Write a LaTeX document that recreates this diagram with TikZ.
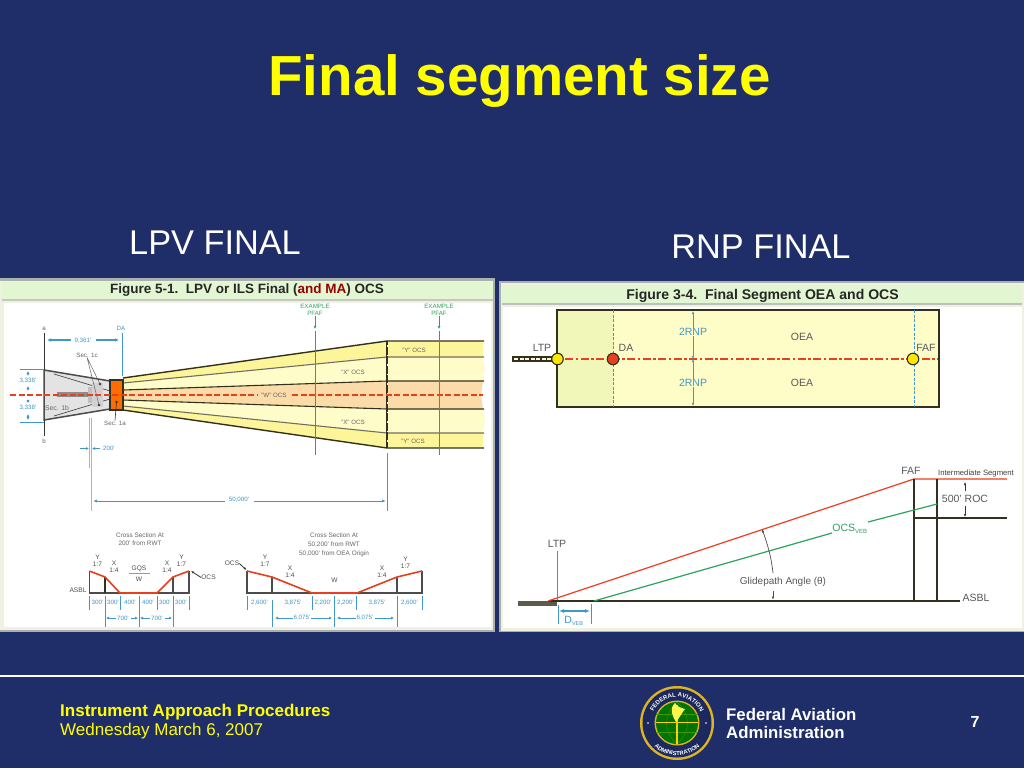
\documentclass[tikz,border=0pt]{standalone}
\usepackage{fontspec}
\setmainfont{Liberation Sans}
\usetikzlibrary{arrows.meta,decorations.text}
\definecolor{navy}{HTML}{1F2D69}
\definecolor{ttl}{HTML}{FFFF00}
\definecolor{frameg}{HTML}{A9B0AE}
\definecolor{cream}{HTML}{F1F1E2}
\definecolor{bar}{HTML}{E2F6D2}
\definecolor{dk}{HTML}{33301F}
\definecolor{red1}{HTML}{E8401F}
\definecolor{dimb}{HTML}{3F98C6}
\definecolor{grn}{HTML}{2FA35A}
\definecolor{lab}{HTML}{666666}
\definecolor{yy}{HTML}{FDF59A}
\definecolor{xx}{HTML}{FEFCC8}
\definecolor{ww}{HTML}{FBDCA8}
\definecolor{ltyel}{HTML}{FEFDC8}
\definecolor{dayel}{HTML}{F1F7B8}
\tikzset{
 px/.style={x=1pt,y=-1pt},
 big/.style={font=\fontsize{34.3}{34}\selectfont,text=white,inner sep=0pt},
 foot/.style={font=\fontsize{17}{18}\selectfont,inner sep=0pt,anchor=west},
 footb/.style={font=\fontsize{17}{18}\bfseries\selectfont,inner sep=0pt,anchor=west},
 figt/.style={font=\fontsize{13.5}{14}\bfseries\selectfont,text=black!85,inner sep=0pt},
 tiny/.style={font=\fontsize{6.2}{7}\selectfont,text=lab,inner sep=0pt},
 tinyb/.style={font=\fontsize{6.2}{7}\selectfont,text=dimb,inner sep=0pt},
 tinyg/.style={font=\fontsize{6.2}{7.6}\selectfont,text=grn,inner sep=0pt,align=center},
 ratio/.style={font=\fontsize{6.6}{7}\selectfont,text=black!70,inner sep=0pt,align=center},
 mid/.style={font=\fontsize{10.5}{11}\selectfont,text=black!65,inner sep=0pt},
 midb/.style={font=\fontsize{10.5}{11}\selectfont,text=dimb,inner sep=0pt},
 dimline/.style={draw=dimb,line width=.9pt},
 dimarrow/.style={draw=dimb,line width=1.1pt,-{Latex[length=4pt,width=3.5pt]}},
 profile/.style={draw=red1,line width=1.6pt,line join=round},
 post/.style={draw=black!70,line width=1.1pt},
 rdash/.style={draw=red1,line width=1.6pt,dash pattern=on 6pt off 2.5pt},
 rdd/.style={draw=red1,line width=1.5pt,dash pattern=on 8pt off 2.5pt on 2.5pt off 2.5pt},
 fan/.style={draw=dk,line width=1.1pt},
 pfaf/.style={draw=grn,line width=.85pt},
 bluedash/.style={draw=dimb,line width=.9pt,dash pattern=on 3pt off 1.5pt},
 hvy/.style={draw=dk,line width=1.8pt},
 blk/.style={draw=black!80,line width=.8pt,-{Latex[length=3pt,width=2.5pt]}},
}
\begin{document}
\begin{tikzpicture}[px]
\useasboundingbox (0,0) rectangle (1024,768);
\fill[navy] (0,0) rectangle (1024,768);
% titles
\node[font=\fontsize{56.5}{56}\bfseries\selectfont,text=ttl,inner sep=0pt] (title) at (519.5,81) {Final segment size};
\node[big] (lpv) at (215,243) {LPV FINAL};
\node[big] (rnp) at (761,247) {RNP FINAL};
% left panel
\fill[frameg] (0,278) rectangle (495,632);
\fill[cream] (0,281) rectangle (493,630);
\fill[white] (4,303) rectangle (491,627);
\fill[bar] (2,282) rectangle (493,299);
\fill[frameg!70] (2,299) rectangle (493,301);
\node[figt] (figL) at (247,290.5) {Figure 5-1.\ \ LPV or ILS Final (\textcolor{red!60!black}{and MA}) OCS};
% fan fills
\fill[yy] (123,378) -- (387,341) -- (483,341) -- (483,357) -- (387,357) -- (123,383) -- cycle;
\fill[xx] (123,383) -- (387,357) -- (483,357) -- (485,369) -- (483,381) -- (387,381) -- (123,390) -- cycle;
\fill[ww] (123,390) -- (387,381) -- (483,381) -- (481,395) -- (483,409) -- (387,409) -- (123,400) -- cycle;
\fill[xx] (123,400) -- (387,409) -- (483,409) -- (485,421) -- (483,433) -- (387,433) -- (123,406) -- cycle;
\fill[yy] (123,406) -- (387,433) -- (483,433) -- (483,448) -- (387,448) -- (123,410) -- cycle;
\draw[fan,line width=1.4pt] (123,378) -- (387,341) -- (484,341);
\draw[fan,line width=1.4pt] (123,410) -- (387,448) -- (484,448);
\draw[fan,draw=dk!70] (123,383) -- (387,357) -- (484,357);
\draw[fan] (123,390) -- (387,381) -- (484,381);
\draw[fan] (123,400) -- (387,409) -- (484,409);
\draw[fan,draw=dk!70] (123,406) -- (387,433) -- (484,433);
\draw[draw=dk,line width=1.6pt] (387,341) -- (387,448);
\draw[white,line width=.6pt,dash pattern=on 1.5pt off 8pt] (387,345) -- (387,445);
% sec 1
\fill[black!11,draw=black!70,line width=1.5pt] (44,370) -- (110,381) -- (110,409) -- (44,420) -- cycle;
\draw[black!70,line width=.7pt] (54,374) -- (110,391) (54,416) -- (110,399);
\fill[black!45] (57,392) rectangle (92,397);
\fill[black!25] (88,387) rectangle (96,403);
\fill[black!18] (92,383) rectangle (103,407);
\fill[orange!85!red,draw=dk,line width=1.2pt] (110,380) rectangle (123,410);
\coordinate (d1) at (100,384); \coordinate (d2) at (99,405); \coordinate (d3) at (116.5,402);
\fill[black!80] (d1) circle (1.4) (d2) circle (1.4) (d3) circle (1.4);
\node[tiny] (sc) at (87,355) {Sec. 1c};
\draw[black!60,line width=.5pt] (sc.south) -- (d1) (sc.south) -- (d2);
\node[tiny,font=\fontsize{6.8}{7}\selectfont] (sb) at (57,408.5) {Sec. 1b};
\node[tiny] (sa) at (115,423) {Sec. 1a};
\draw[black!80,line width=.6pt] (sa.north) -- (d3);
\draw[rdash] (10,395) -- (258,395);
\node[tiny] (wo) at (274,395) {"W" OCS};
\draw[rdash] (292,395) -- (483,395);
\node[tiny] (x1) at (353,372) {"X" OCS};
\node[tiny] (x2) at (353,422) {"X" OCS};
\node[tiny] (y1) at (414,350) {"Y" OCS};
\node[tiny] (y2) at (413,441) {"Y" OCS};
% example pfaf
\node[tinyg] (p1) at (315,310) {EXAMPLE\\PFAF};
\node[tinyg] (p2) at (439,310) {EXAMPLE\\PFAF};
\draw[pfaf] (315,331) -- (315,455);
\draw[pfaf] (439,331) -- (439,455);
\coordinate (p1e) at (315,329); \coordinate (p2e) at (439,329);
\draw[pfaf,-{Latex[length=3pt,width=3pt]}] (p1.south) -- (p1e);
\draw[pfaf,-{Latex[length=3pt,width=3pt]}] (p2.south) -- (p2e);
% left dims
\node[tiny] (na) at (44,329) {a};
\node[tiny] (nb) at (44,441) {b};
\draw[black!80,line width=.8pt] (44,333) -- (44,370);
\draw[black!80,line width=.8pt] (44,420) -- (44,436);
\node[tinyb] (da) at (121,328) {DA};
\draw[dimline] (122,333) -- (122,376);
\node[tinyb] (d9) at (83,340.5) {9,361'};
\coordinate (d9l) at (47,340); \coordinate (d9r) at (119,340);
\draw[dimarrow] (71,340) -- (d9l);
\draw[dimarrow] (96,340) -- (d9r);
\draw[dimline] (20,369.5) -- (44,369.5) (20,422) -- (44,422);
\node[tinyb] (h1) at (28,381) {3,338'};
\node[tinyb] (h2) at (28,408) {3,338'};
\draw[dimline,{Latex[length=3pt,width=3pt]}-{Latex[length=3pt,width=3pt]}] (28,371) -- (28,376);
\draw[dimline,{Latex[length=3pt,width=3pt]}-{Latex[length=3pt,width=3pt]}] (28,386) -- (28,391);
\draw[dimline,{Latex[length=3pt,width=3pt]}-{Latex[length=3pt,width=3pt]}] (28,399) -- (28,403);
\draw[dimline,{Latex[length=3pt,width=3pt]}-{Latex[length=3pt,width=3pt]}] (28,414) -- (28,420);
\draw[dimb!60,line width=.7pt] (89.5,418) -- (89.5,468) (91.5,418) -- (91.5,511);
\draw[dimline,-{Latex[length=3pt,width=3pt]}] (80,448.5) -- (89,448.5);
\draw[dimline,-{Latex[length=3pt,width=3pt]}] (100,448.5) -- (92,448.5);
\node[tinyb] (d200) at (109,448.5) {200'};
\node[tinyb] (d50) at (239,500) {50,000'};
\coordinate (d50l) at (93,501); \coordinate (d50r) at (386,501);
\draw[dimline,-{Latex[length=4pt,width=3pt]}] (225,501) -- (d50l);
\draw[dimline,-{Latex[length=4pt,width=3pt]}] (254,501) -- (d50r);
\draw[dimline] (387.5,453) -- (387.5,511);
% cross section 1
\node[tiny,align=center,font=\fontsize{6.4}{8}\selectfont] (cs1) at (140,539) {Cross Section At\\200' from RWT};
\draw[post] (89.5,571) -- (89.5,593) -- (189,593) -- (189,571);
\draw[post,draw=dk] (105,577) -- (105,593);
\draw[post] (173,577) -- (173,593);
\draw[profile] (89.5,571) -- (105,577) -- (120,593) -- (157,593) -- (173,577) -- (189,571);
\node[ratio] (ya) at (97.5,561) {Y\\1:7};
\node[ratio] (xa) at (114,566.5) {X\\1:4};
\node[ratio] (xb) at (167,566.5) {X\\1:4};
\node[ratio] (yb) at (181.5,561) {Y\\1:7};
\node[ratio] (gqs) at (139,568.5) {GQS};
\draw[black!40,line width=.5pt] (129,573.5) -- (150,573.5);
\node[ratio] (wa) at (139,579.5) {W};
\node[ratio] (asa) at (78,590.5) {ASBL};
\node[ratio] (oa) at (208.5,577.5) {OCS};
\coordinate (oat) at (191,571);
\draw[blk] (oa.west) -- (oat);
\foreach \x in {89.5,105,120.5,139,157.5,173,189} \draw[dimline] (\x,596) -- (\x,610);
\foreach \x in {105,139,173} \draw[dimline] (\x,602) -- (\x,627);
\foreach \x/\t/\n in {97.5/300'/a1,113/300'/a2,130/400'/a3,148/400'/a4,165/300'/a5,181/300'/a6}
  \node[tinyb] (\n) at (\x,602) {\t};
\node[tinyb] (a7) at (123,618) {700'};
\node[tinyb] (a8) at (157,618) {700'};
\foreach \a/\b in {116/106,131/138,150/140,165/172}
  \draw[dimline,-{Latex[length=3pt,width=3pt]}] (\a,618) -- (\b,618);
% cross section 2
\node[tiny,align=center,font=\fontsize{6.4}{9}\selectfont] (cs2) at (334,545) {Cross Section At\\50,200' from RWT\\50,000' from OEA Origin};
\draw[post] (247,571) -- (247,593) -- (422,593) -- (422,571);
\draw[post] (272,577) -- (272,593) (397,577) -- (397,593);
\draw[profile] (247,571) -- (272,577) -- (312,593) -- (357,593) -- (397,577) -- (422,571);
\node[ratio] (yc) at (265,560.5) {Y\\1:7};
\node[ratio] (xc) at (290,572) {X\\1:4};
\node[ratio] (xd) at (382,572) {X\\1:4};
\node[ratio] (yd) at (405.5,562.5) {Y\\1:7};
\node[ratio] (wb) at (334.5,580.5) {W};
\node[ratio] (ob) at (232,563.5) {OCS};
\coordinate (obt) at (246.5,570);
\draw[blk] (ob.east) -- (obt);
\foreach \x in {247,312.5,334.5,356.5,397,422} \draw[dimline] (\x,596) -- (\x,610);
\foreach \x in {272,334.5,397} \draw[dimline] (\x,600) -- (\x,627);
\foreach \x/\t/\n in {259.5/{2,600'}/b1,293/{3,875'}/b2,323/{2,200'}/b3,345.5/{2,200'}/b4,377/{3,875'}/b5,409.5/{2,600'}/b6}
  \node[tinyb] (\n) at (\x,603) {\t};
\node[tinyb] (b7) at (302,618) {6,075'};
\node[tinyb] (b8) at (365,618) {6,075'};
\foreach \a/\b in {293/275,311/332,356/337,375/394}
  \draw[dimline,-{Latex[length=3pt,width=3pt]}] (\a,618) -- (\b,618);
% right panel
\fill[frameg] (499,281) rectangle (1024,632);
\fill[cream] (501,283) rectangle (1024,631);
\fill[white] (503,307) rectangle (1022,628);
\fill[bar] (502,285) rectangle (1022,303);
\fill[frameg!80] (502,303) rectangle (1022,305);
\node[figt,font=\fontsize{14.05}{15}\bfseries\selectfont] (figR) at (762.5,295.5) {Figure 3-4.\ \ Final Segment OEA and OCS};
\fill[ltyel] (557,310) rectangle (939,407);
\fill[dayel] (557,310) rectangle (613,407);
\draw[hvy] (557,310) rectangle (939,407);
\coordinate (rw) at (512,359);
\draw[dk,line width=6pt] (rw) -- (553,359);
\draw[white!85!yellow,line width=1.6pt,dash pattern=on 4pt off 1.5pt] (514,359) -- (553,359);
\draw[rdd] (565,359) -- (938,359);
\draw[bluedash] (613,310) -- (613,407);
\draw[bluedash] (914,310) -- (914,407);
\coordinate (q1) at (693,311); \coordinate (q2) at (693,359); \coordinate (q3) at (693,406);
\node[midb,fill=ltyel,inner sep=.5pt] (r1) at (693,332) {2RNP};
\node[midb,fill=ltyel,inner sep=.5pt] (r2) at (693,383) {2RNP};
\draw[dimline,-{Latex[length=3pt,width=2.5pt]}] (r1.north) -- (q1);
\draw[dimline,-{Latex[length=3pt,width=2.5pt]}] (r1.south) -- (q2);
\draw[dimline,-{Latex[length=3pt,width=2.5pt]}] (r2.north) -- (q2);
\draw[dimline,-{Latex[length=3pt,width=2.5pt]}] (r2.south) -- (q3);
\node[mid] (o1) at (802,337) {OEA};
\node[mid] (o2) at (802,383) {OEA};
\node[mid] (l1) at (542,348) {LTP};
\node[mid] (l2) at (626,348) {DA};
\node[mid] (l3) at (926,348) {FAF};
\node[circle,fill=yellow!90!orange,draw=dk,line width=1.1pt,minimum size=11.5pt,inner sep=0pt] (cl) at (557.5,359) {};
\node[circle,fill=red1,draw=dk,line width=1.1pt,minimum size=11.5pt,inner sep=0pt] (cd) at (613,359) {};
\node[circle,fill=yellow!90!orange,draw=dk,line width=1.1pt,minimum size=11.5pt,inner sep=0pt] (cf) at (913,359) {};
% profile
\coordinate (g0) at (549,601); \coordinate (g1) at (960,601);
\fill[dk!80] (518,601) rectangle (557,605.5);
\draw[hvy] (g0) -- (g1);
\draw[red1,line width=1.2pt] (548,601) -- (914,479) -- (1007,479);
\draw[hvy] (914,479) -- (914,601);
\draw[hvy] (937,479) -- (937,601);
\draw[dk,line width=1.3pt] (914,518) -- (1007,518);
\draw[grn,line width=1.2pt] (594,601) -- (832,533);
\draw[grn,line width=1.2pt] (868,522) -- (937,504);
\node[mid,text=grn] (ocs) at (850,529) {OCS\textsubscript{\fontsize{6}{6}\selectfont VEB}};
\node[mid] (ltp) at (557,544) {LTP};
\coordinate (ltpe) at (557,600);
\draw[black!50,line width=.9pt] (557,551) -- (ltpe);
\node[mid] (faf) at (911,471) {FAF};
\node[font=\fontsize{7.7}{8}\selectfont,text=black!75,inner sep=0pt] (is) at (976,474) {Intermediate Segment};
\node[mid] (roc) at (965,499) {500' ROC};
\coordinate (rt) at (965,482); \coordinate (rb) at (965,517);
\draw[blk] (965,491) -- (rt);
\draw[blk] (965,506) -- (rb);
\node[mid] (asbl) at (976,598) {ASBL};
\node[mid,font=\fontsize{10}{11}\selectfont] (gp) at (783,582) {Glidepath Angle (θ)};
\draw[black!70,line width=.7pt,{Latex[length=3.5pt,width=2.5pt]}-] (762,529) .. controls (767,543) and (771,555) .. (773,573);
\draw[black!70,line width=.7pt,-{Latex[length=3.5pt,width=2.5pt]}] (773,591) -- (773,600);
\draw[dimline] (558,605) -- (558,624) (591,604) -- (591,624);
\draw[dimline,line width=1.1pt,{Latex[length=5pt,width=4pt]}-{Latex[length=5pt,width=4pt]}] (559,611) -- (590,611);
\node[midb] (dv) at (574,621) {D\textsubscript{\fontsize{5.5}{6}\selectfont VEB}};
% footer
\fill[white] (0,675) rectangle (1024,677);
\node[footb,text=ttl] (f1) at (60,712) {Instrument Approach Procedures};
\node[foot,text=ttl] (f2) at (60,731) {Wednesday March 6, 2007};
\node[footb,font=\fontsize{16.8}{18}\bfseries\selectfont,text=white] (f3) at (726,714.5) {Federal Aviation};
\node[footb,font=\fontsize{16.8}{18}\bfseries\selectfont,text=white] (f4) at (726,732) {Administration};
\node[font=\fontsize{16}{18}\bfseries\selectfont,text=white,inner sep=0pt] (pg) at (975,722) {7};
% seal
\begin{scope}[shift={(677,723)},x=1pt,y=1pt]
\fill[yellow!60!orange!85!black] (0,0) circle (37);
\fill[navy!90!black] (0,0) circle (34.5);
\fill[yellow!60!orange!85!black] (0,0) circle (22.5);
\fill[green!45!black] (0,0) circle (21);
\draw[green!45!black!75!yellow,line width=.4pt] (-21,9) -- (21,9) (-21,-9) -- (21,-9);
\draw[green!45!black!75!yellow,line width=.4pt] (0,21) .. controls (-14,8) and (-14,-8) .. (0,-21) (0,21) .. controls (14,8) and (14,-8) .. (0,-21);
\fill[yellow!70!orange] (-21,.9) -- (21,.9) -- (21,-.4) -- (-21,-.4) -- cycle;
\fill[yellow!70!orange] (-.9,18) -- (.9,18) -- (.9,-21) -- (-.9,-21) -- cycle;
\fill[yellow!70!white] (-2,20) .. controls (-8,14) and (-5,8) .. (-1,1) .. controls (3,6) and (6,12) .. (8,14) .. controls (3,15) and (0,17) .. (-2,20) -- cycle;
\path[postaction={decorate,decoration={text along path,text align=center,text={|\fontsize{6}{6}\bfseries\selectfont\color{white}|FEDERAL AVIATION}}}] (165:26) arc (165:15:26);
\path[postaction={decorate,decoration={text along path,text align=center,text={|\fontsize{5.8}{6}\bfseries\selectfont\color{white}|ADMINISTRATION}}}] (200:32.5) arc (200:340:32.5);
\fill[white] (-29,0) circle (.8) (29,0) circle (.8);
\end{scope}
\end{tikzpicture}
\end{document}
